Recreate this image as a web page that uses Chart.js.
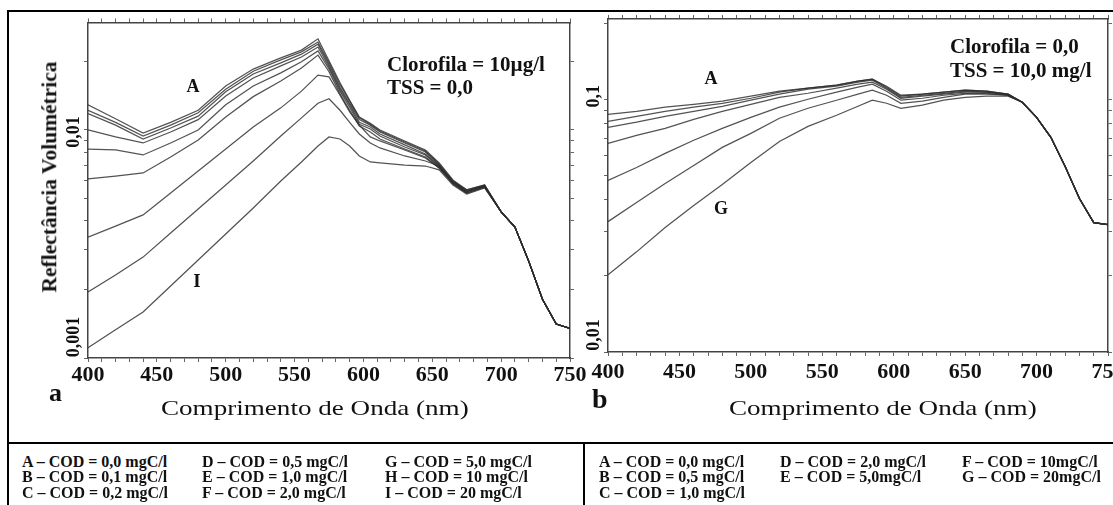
<!DOCTYPE html>
<html><head><meta charset="utf-8">
<script src="https://cdn.jsdelivr.net/npm/chart.js@4.4.1/dist/chart.umd.min.js"></script>
<style>
html,body{margin:0;padding:0;background:#fff;}
#wrap{position:relative;width:1113px;height:505px;overflow:hidden;background:#fff;font-family:"Liberation Serif","Times New Roman",serif;color:#111;}
canvas{position:absolute;}
.t{position:absolute;white-space:nowrap;line-height:1;}
.b{font-weight:bold;}
.ln{position:absolute;background:#000;}
</style></head><body>
<div id="wrap">
  <canvas id="ca" width="600" height="440" style="left:0;top:0"></canvas>
  <canvas id="cb" width="538" height="440" style="left:575px;top:0"></canvas>
  <div class="ln" style="left:7px;top:10px;width:1106px;height:2px"></div>
  <div class="ln" style="left:7px;top:10px;width:2px;height:495px"></div>
  <div class="ln" style="left:7px;top:442px;width:1106px;height:2px"></div>
  <div class="ln" style="left:583px;top:443px;width:2px;height:62px"></div>

  <div class="t b" style="left:387px;top:54px;font-size:21px">Clorofila = 10µg/l</div>
  <div class="t b" style="left:387px;top:77px;font-size:21px">TSS = 0,0</div>
  <div class="t b" style="left:950px;top:36px;font-size:21px">Clorofila = 0,0</div>
  <div class="t b" style="left:950px;top:60px;font-size:21px">TSS = 10,0 mg/l</div>

  <div class="t b" style="left:193px;top:86px;font-size:18px;transform:translate(-50%,-50%)">A</div>
  <div class="t b" style="left:197px;top:280px;font-size:19px;transform:translate(-50%,-50%)">I</div>
  <div class="t b" style="left:711px;top:78px;font-size:18px;transform:translate(-50%,-50%)">A</div>
  <div class="t b" style="left:721px;top:208px;font-size:18px;transform:translate(-50%,-50%)">G</div>

  <div class="t b" style="left:49px;top:380px;font-size:26px">a</div>
  <div class="t b" style="left:592px;top:385px;font-size:28px">b</div>

  <div class="t" style="left:161px;top:398px;font-size:21.5px;transform:scaleX(1.26);transform-origin:0 0">Comprimento de Onda (nm)</div>
  <div class="t" style="left:729px;top:398px;font-size:21.5px;transform:scaleX(1.26);transform-origin:0 0">Comprimento de Onda (nm)</div>
  <div class="t b" style="left:49.5px;top:176.5px;font-size:21.5px;transform:translate(-50%,-50%) rotate(-90deg)">Reflectância Volumétrica</div>
  <div id="legends"></div>
</div>
<script>
// ---------- Panel a (Clorofila = 10 µg/l, TSS = 0,0) ----------
const WL_A = [400,420,440,460,480,500,520,540,555,567,575,583,590,597,605,612,630,645,655,665,675,688,700,710,720,730,740,750];
const A_A = [0.0129,0.0112,0.0097,0.0108,0.0122,0.0156,0.0185,0.0207,0.0224,0.0251,0.0201,0.0161,0.0135,0.0114,0.0107,0.0100,0.00895,0.00817,0.00717,0.00604,0.00546,0.00574,0.00437,0.00375,0.00266,0.00181,0.00141,0.00135];
const B_A = [0.0122,0.0108,0.00941,0.0105,0.0119,0.0151,0.0181,0.0203,0.0220,0.0243,0.0197,0.0158,0.0134,0.0113,0.0106,0.0099,0.00886,0.00809,0.00709,0.00597,0.00546,0.00574,0.00437,0.00375,0.00266,0.00181,0.00141,0.00135];
const C_A = [0.0118,0.0105,0.00913,0.0102,0.0115,0.0147,0.0176,0.0197,0.0215,0.0238,0.0193,0.0154,0.0131,0.0111,0.0105,0.0098,0.00877,0.00801,0.00702,0.00597,0.00540,0.00568,0.00437,0.00375,0.00266,0.00181,0.00141,0.00135];
const D_A = [0.0100,0.00932,0.00877,0.0098,0.0111,0.0141,0.0169,0.0191,0.0209,0.0231,0.0189,0.0151,0.0129,0.0108,0.0103,0.0096,0.00860,0.00785,0.00695,0.00591,0.00540,0.00568,0.00437,0.00375,0.00266,0.00181,0.00141,0.00135];
const E_A = [0.00825,0.00817,0.00777,0.00877,0.0100,0.0129,0.0156,0.0178,0.0199,0.0222,0.0185,0.0148,0.0126,0.0106,0.0101,0.00941,0.00842,0.00777,0.00688,0.00591,0.00535,0.00568,0.00437,0.00375,0.00266,0.00181,0.00141,0.00135];
const F_A = [0.00610,0.00628,0.00648,0.00761,0.00904,0.0114,0.0140,0.0164,0.0187,0.0213,0.0180,0.0144,0.0122,0.0104,0.0098,0.00913,0.00825,0.00761,0.00681,0.00585,0.00535,0.00568,0.00437,0.00375,0.00266,0.00181,0.00141,0.00135];
const G_A = [0.00339,0.00379,0.00424,0.00529,0.00661,0.00825,0.0103,0.0125,0.0148,0.0174,0.0171,0.0142,0.0120,0.0105,0.00932,0.00895,0.00817,0.00754,0.00681,0.00585,0.00529,0.00562,0.00437,0.00375,0.00266,0.00181,0.00141,0.00135];
const H_A = [0.00195,0.00231,0.00277,0.00353,0.00450,0.00574,0.00731,0.00941,0.0113,0.0131,0.0137,0.0122,0.0108,0.0096,0.00877,0.00834,0.00769,0.00731,0.00695,0.00580,0.00529,0.00562,0.00437,0.00375,0.00266,0.00181,0.00141,0.00135];
const I_A = [0.00111,0.00133,0.00159,0.00207,0.00269,0.00350,0.00455,0.00597,0.00724,0.00851,0.00932,0.00913,0.00851,0.00769,0.00724,0.00717,0.00702,0.00695,0.00668,0.00574,0.00524,0.00557,0.00437,0.00375,0.00266,0.00181,0.00141,0.00135];
const NAMES_A = ['A','B','C','D','E','F','G','H','I'];
const LEGEND_A = [
  ['A – COD = 0,0 mgC/l','B – COD = 0,1 mgC/l','C – COD = 0,2 mgC/l'],
  ['D – COD = 0,5 mgC/l','E – COD = 1,0 mgC/l','F – COD = 2,0 mgC/l'],
  ['G – COD = 5,0 mgC/l','H – COD = 10 mgC/l','I – COD = 20 mgC/l']
];
const Y_TICKS_A = [0.001,0.002,0.003,0.004,0.005,0.006,0.007,0.008,0.009,0.01,0.02];
const Y_LABEL_VALUES_A = [0.001,0.01];
const Y_LABEL_TEXT_A = ['0,001','0,01'];

// ---------- Panel b (Clorofila = 0,0, TSS = 10,0 mg/l) ----------
const WL_B = [400,420,440,460,480,500,520,540,560,575,585,595,605,620,635,650,665,680,690,700,710,720,730,740,750];
const A_B = [0.0872,0.0896,0.0930,0.0955,0.0982,0.1028,0.1076,0.1106,0.1136,0.1179,0.1201,0.1126,0.1037,0.1047,0.1066,0.1086,0.1076,0.1047,0.0973,0.0848,0.0707,0.0542,0.0405,0.0325,0.0319];
const B_B = [0.0818,0.0856,0.0896,0.0930,0.0964,0.1009,0.1066,0.1106,0.1136,0.1179,0.1201,0.1116,0.1028,0.1047,0.1066,0.1086,0.1076,0.1047,0.0973,0.0848,0.0707,0.0542,0.0405,0.0325,0.0319];
const C_B = [0.0774,0.0811,0.0856,0.0896,0.0938,0.0991,0.1047,0.1096,0.1126,0.1168,0.1190,0.1106,0.1018,0.1037,0.1056,0.1076,0.1066,0.1047,0.0973,0.0848,0.0707,0.0542,0.0405,0.0325,0.0319];
const D_B = [0.0669,0.0720,0.0767,0.0833,0.0896,0.0955,0.1018,0.1056,0.1106,0.1147,0.1168,0.1096,0.1009,0.1028,0.1047,0.1066,0.1066,0.1037,0.0973,0.0848,0.0707,0.0542,0.0405,0.0325,0.0319];
const E_B = [0.0477,0.0537,0.0611,0.0688,0.0767,0.0848,0.0930,0.1000,0.1066,0.1116,0.1147,0.1076,0.0991,0.1009,0.1037,0.1056,0.1056,0.1037,0.0973,0.0848,0.0707,0.0542,0.0405,0.0325,0.0319];
const F_B = [0.0328,0.0390,0.0464,0.0547,0.0645,0.0733,0.0841,0.0921,0.0991,0.1047,0.1086,0.1037,0.0964,0.0982,0.1018,0.1047,0.1047,0.1037,0.0973,0.0848,0.0707,0.0542,0.0405,0.0325,0.0319];
const G_B = [0.0202,0.0249,0.0311,0.0380,0.0460,0.0562,0.0681,0.0781,0.0864,0.0938,0.0991,0.0964,0.0921,0.0947,0.0991,0.1018,0.1028,0.1028,0.0973,0.0848,0.0707,0.0542,0.0405,0.0325,0.0319];
const NAMES_B = ['A','B','C','D','E','F','G'];
const LEGEND_B = [
  ['A – COD = 0,0 mgC/l','B – COD = 0,5 mgC/l','C – COD = 1,0 mgC/l'],
  ['D – COD = 2,0 mgC/l','E – COD = 5,0mgC/l'],
  ['F – COD = 10mgC/l','G – COD = 20mgC/l']
];
const Y_TICKS_B = [0.01,0.02,0.03,0.04,0.05,0.06,0.07,0.08,0.09,0.1,0.2];
const Y_LABEL_VALUES_B = [0.01,0.1];
const Y_LABEL_TEXT_B = ['0,01','0,1'];

const X_TICK_LABELS = [400,450,500,550,600,650,700,750];

// ---------- legends (HTML text) ----------
(function(){
  const host = document.getElementById('legends');
  const rowsTop = [454, 469, 485];
  function put(cols, colX){
    cols.forEach((list, c)=>{
      list.forEach((txt, r)=>{
        const d = document.createElement('div');
        d.className = 't b';
        d.style.fontSize = '16px';
        d.style.left = colX[c] + 'px';
        d.style.top = rowsTop[r] + 'px';
        d.textContent = txt;
        host.appendChild(d);
      });
    });
  }
  put(LEGEND_A, [22, 202, 385]);
  put(LEGEND_B, [599, 780, 962]);
})();

const yLabelPlugin = {
  id: 'yLabels',
  afterDraw(chart, args, o) {
    const s = chart.scales.y, ctx = chart.ctx;
    ctx.save();
    ctx.font = 'bold 18px "Liberation Serif"';
    ctx.fillStyle = '#111';
    ctx.textAlign = 'center';
    ctx.textBaseline = 'middle';
    o.values.forEach((v, i) => {
      const py = s.getPixelForValue(v) + o.shifts[i];
      ctx.save();
      ctx.translate(s.right - 14, py);
      ctx.rotate(-Math.PI / 2);
      ctx.fillText(o.texts[i], 0, 0);
      ctx.restore();
    });
    ctx.restore();
  }
};

function makeChart(id, wl, series, names, cfg) {
  const gridOpt = {drawOnChartArea:false, drawTicks:true, tickLength:4, tickColor:'#666', tickWidth:1};
  const borderOpt = {display:true, color:'#444', width:1.5};
  return new Chart(document.getElementById(id), {
    type: 'line',
    data: {
      datasets: series.map((s, i) => ({
        label: names[i],
        data: wl.map((w, j) => ({x: w, y: s[j]})),
        borderColor: 'rgba(45,45,45,0.82)',
        borderWidth: 1.25,
        pointRadius: 0,
        tension: 0,
        fill: false
      }))
    },
    options: {
      responsive: false, animation: false, events: [],
      layout: {padding: 0},
      plugins: {
        legend: {display: false}, tooltip: {enabled: false},
        yLabels: {values: cfg.yLabelValues, texts: cfg.yLabelTexts, shifts: cfg.yShifts}
      },
      scales: {
        x: {
          type: 'linear', position: 'bottom', min: 400, max: 750,
          ticks: {stepSize: 10, autoSkip: false, maxRotation: 0, minRotation: 0, padding: cfg.xPad,
            color: '#111', font: {family: 'Liberation Serif', size: 22, weight: 'bold'},
            callback: v => X_TICK_LABELS.includes(v) ? String(v) : ''},
          grid: gridOpt, border: borderOpt,
          afterFit: s => { s.height = cfg.bottomH; s.paddingLeft = 0; s.paddingRight = 0; }
        },
        x2: {
          type: 'linear', position: 'top', min: 400, max: 750,
          ticks: {stepSize: 10, display: false},
          grid: gridOpt, border: borderOpt,
          afterFit: s => { s.height = cfg.topH; s.paddingLeft = 0; s.paddingRight = 0; }
        },
        y: {
          type: 'logarithmic', position: 'left', min: cfg.yMin, max: cfg.yMax,
          ticks: {display: false},
          afterBuildTicks: s => { s.ticks = cfg.yTicks.map(v => ({value: v})); },
          grid: gridOpt, border: borderOpt,
          afterFit: s => { s.width = cfg.leftW; s.paddingTop = 0; s.paddingBottom = 0; }
        },
        y2: {
          type: 'logarithmic', position: 'right', min: cfg.yMin, max: cfg.yMax,
          ticks: {display: false},
          afterBuildTicks: s => { s.ticks = cfg.yTicks.map(v => ({value: v})); },
          grid: gridOpt, border: borderOpt,
          afterFit: s => { s.width = cfg.rightW; s.paddingTop = 0; s.paddingBottom = 0; }
        }
      }
    },
    plugins: [yLabelPlugin]
  });
}

makeChart('ca', WL_A, [A_A,B_A,C_A,D_A,E_A,F_A,G_A,H_A,I_A], NAMES_A, {
  yMin: 0.001, yMax: 0.0296, yTicks: Y_TICKS_A,
  yLabelValues: Y_LABEL_VALUES_A, yLabelTexts: Y_LABEL_TEXT_A, yShifts: [-21, 2],
  leftW: 88, rightW: 30, topH: 22.5, bottomH: 82, xPad: 0
});
makeChart('cb', WL_B, [A_B,B_B,C_B,D_B,E_B,F_B,G_B], NAMES_B, {
  yMin: 0.01, yMax: 0.2077, yTicks: Y_TICKS_B,
  yLabelValues: Y_LABEL_VALUES_B, yLabelTexts: Y_LABEL_TEXT_B, yShifts: [-17, -3],
  leftW: 33, rightW: 5, topH: 19, bottomH: 88, xPad: 3
});
</script>
</body></html>
